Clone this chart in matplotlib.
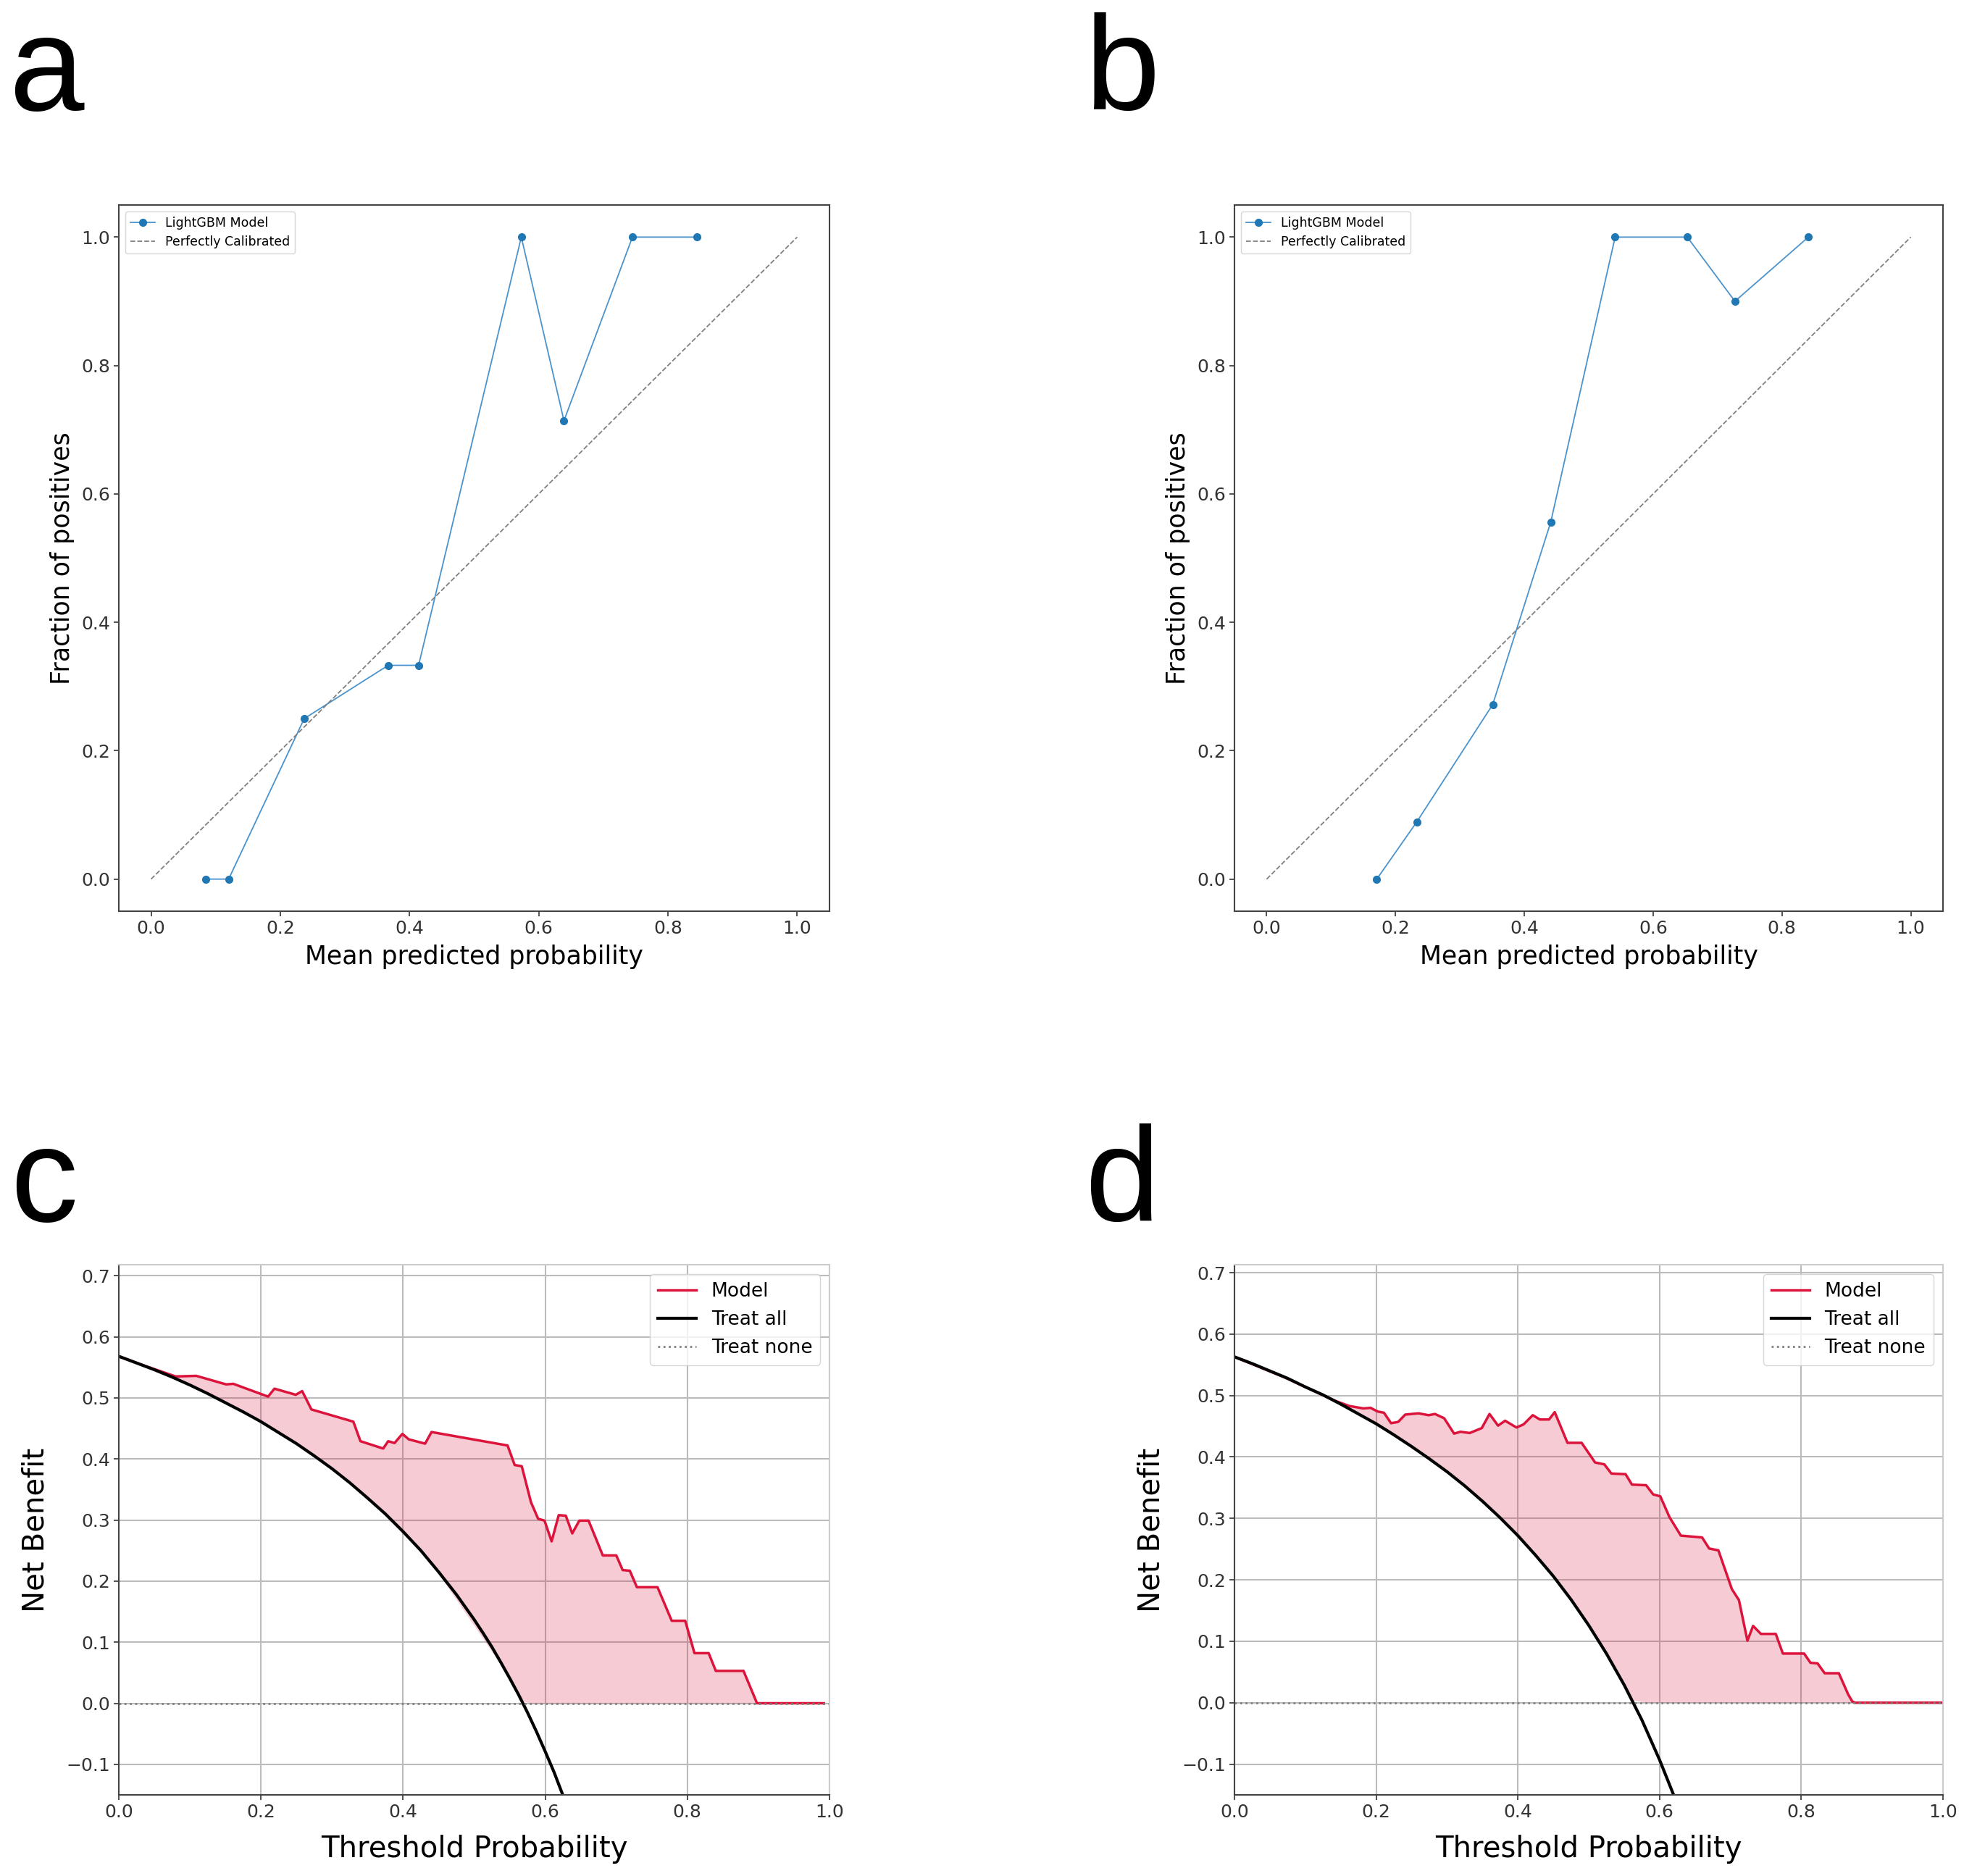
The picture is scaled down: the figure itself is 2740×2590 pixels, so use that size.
#!/usr/bin/env python3
import numpy as np
import matplotlib
import matplotlib.pyplot as plt

matplotlib.use("Agg")

# calibration curves (mean predicted prob, fraction of positives)
cal_a_x = [0.084, 0.120, 0.237, 0.367, 0.414, 0.573, 0.639, 0.745, 0.845]
cal_a_y = [0.0, 0.0, 0.25, 0.333, 0.333, 1.0, 0.714, 1.0, 1.0]
cal_b_x = [0.171, 0.233, 0.351, 0.441, 0.541, 0.653, 0.727, 0.841]
cal_b_y = [0.0, 0.089, 0.272, 0.556, 1.0, 1.0, 0.9, 1.0]

# decision curves, panel c
dca_c_t = [0.0, 0.04, 0.080, 0.109, 0.151, 0.161, 0.210, 0.219, 0.249, 0.258, 0.271,
	0.330, 0.340, 0.372, 0.379, 0.388, 0.399, 0.408, 0.431, 0.440, 0.547, 0.557,
	0.567, 0.580, 0.590, 0.599, 0.609, 0.619, 0.629, 0.638, 0.648, 0.661, 0.681,
	0.700, 0.709, 0.719, 0.729, 0.758, 0.778, 0.797, 0.810, 0.830, 0.840, 0.879,
	0.898, 0.992]
dca_c_model = [0.568, 0.551, 0.535, 0.536, 0.522, 0.523, 0.502, 0.515, 0.505, 0.511, 0.481,
	0.461, 0.429, 0.417, 0.429, 0.426, 0.441, 0.432, 0.425, 0.444, 0.422, 0.390,
	0.388, 0.329, 0.302, 0.299, 0.265, 0.308, 0.307, 0.278, 0.299, 0.299, 0.242,
	0.242, 0.218, 0.217, 0.190, 0.190, 0.135, 0.135, 0.082, 0.082, 0.053, 0.053,
	0.0, 0.0]
dca_c_all_t = [0.0, 0.025, 0.05, 0.075, 0.1, 0.125, 0.15, 0.175, 0.2, 0.225, 0.25, 0.275,
	0.3, 0.325, 0.35, 0.375, 0.4, 0.425, 0.45, 0.475, 0.5, 0.5125, 0.525, 0.5375,
	0.55, 0.5625, 0.575, 0.5875, 0.6, 0.6125, 0.625]
dca_c_all = [0.568, 0.557, 0.546, 0.534, 0.521, 0.507, 0.492, 0.477, 0.461, 0.443, 0.425,
	0.405, 0.384, 0.361, 0.336, 0.310, 0.281, 0.250, 0.215, 0.178, 0.137, 0.115,
	0.092, 0.067, 0.041, 0.014, -0.015, -0.046, -0.079, -0.113, -0.151]

# decision curves, panel d
dca_d_t = [0.0, 0.07, 0.143, 0.162, 0.182, 0.192, 0.202, 0.211, 0.221, 0.231, 0.241,
	0.260, 0.274, 0.283, 0.296, 0.310, 0.319, 0.332, 0.349, 0.360, 0.372, 0.382,
	0.398, 0.408, 0.421, 0.431, 0.444, 0.452, 0.470, 0.490, 0.509, 0.522, 0.532,
	0.552, 0.561, 0.581, 0.591, 0.601, 0.614, 0.630, 0.660, 0.670, 0.683, 0.702,
	0.712, 0.724, 0.732, 0.743, 0.764, 0.774, 0.804, 0.813, 0.823, 0.833, 0.853,
	0.866, 0.872, 0.876, 0.999]
dca_d_model = [0.563, 0.530, 0.491, 0.483, 0.479, 0.480, 0.474, 0.472, 0.455, 0.457, 0.469,
	0.471, 0.468, 0.470, 0.463, 0.438, 0.441, 0.439, 0.447, 0.470, 0.451, 0.459,
	0.448, 0.453, 0.468, 0.461, 0.461, 0.473, 0.423, 0.423, 0.391, 0.388, 0.373,
	0.372, 0.355, 0.354, 0.339, 0.336, 0.302, 0.272, 0.269, 0.251, 0.248, 0.185,
	0.167, 0.101, 0.125, 0.112, 0.112, 0.080, 0.080, 0.065, 0.064, 0.048, 0.048,
	0.014, 0.002, 0.0, 0.0]
dca_d_all_t = [0.0, 0.025, 0.05, 0.075, 0.1, 0.125, 0.15, 0.175, 0.2, 0.225, 0.25, 0.275,
	0.3, 0.325, 0.35, 0.375, 0.4, 0.425, 0.45, 0.475, 0.5, 0.525, 0.55, 0.575, 0.6, 0.625]
dca_d_all = [0.563, 0.552, 0.540, 0.528, 0.514, 0.501, 0.486, 0.470, 0.454, 0.436, 0.417,
	0.397, 0.376, 0.353, 0.328, 0.301, 0.272, 0.240, 0.206, 0.168, 0.126, 0.080,
	0.029, -0.028, -0.093, -0.165]

ticks01 = [0.0, 0.2, 0.4, 0.6, 0.8, 1.0]
nb_ticks = [-0.1, 0.0, 0.1, 0.2, 0.3, 0.4, 0.5, 0.6, 0.7]

W, H = 2740, 2590
fig = plt.figure(figsize=(W/100, H/100), dpi=100)

def box(l, t, r, b):
	return [l/W, 1-b/H, (r-l)/W, (b-t)/H]

def style(ax):
	ax.tick_params(labelsize=18, length=5, width=1.2, colors='#333333')
	for s in ax.spines.values():
		s.set_linewidth(1.5)
		s.set_color('#444444')

def calib(ax, x, y):
	ax.plot(x, y, marker='o', color='#4a93cc', lw=1.3, ms=7, mfc='#1f77b4', mec='#1f77b4',
		label='LightGBM Model')
	ax.plot([0, 1], [0, 1], '--', color='gray', lw=1.3, label='Perfectly Calibrated')
	ax.set_xticks(ticks01)
	ax.set_yticks(ticks01)
	ax.set_xlabel('Mean predicted probability', fontsize=25, labelpad=7)
	ax.set_ylabel('Fraction of positives', fontsize=25, labelpad=7)
	ax.legend(loc='upper left', fontsize=12.5)
	style(ax)

def dca(ax, t, model, all_t, all_nb):
	ax.plot(t, model, color='crimson', lw=2.5, label='Model')
	ax.plot(all_t, all_nb, color='black', lw=3, label='Treat all')
	ax.plot([0, 1], [0, 0], ':', color='gray', lw=2, label='Treat none')
	t = np.array(t)
	lower = np.maximum(np.interp(t, all_t, all_nb), 0)
	ax.fill_between(t, model, lower, where=np.array(model) >= lower,
		interpolate=True, color='crimson', alpha=0.22, lw=0)
	ax.set_xlim(0, 1)
	ax.set_ylim(-0.15, all_nb[0]+0.15)
	ax.set_xticks(ticks01)
	ax.set_yticks(nb_ticks)
	ax.grid(True, color='#bbbbbb', lw=1.5)
	ax.set_axisbelow(True)
	ax.set_xlabel('Threshold Probability', fontsize=29, labelpad=14)
	ax.set_ylabel('Net Benefit', fontsize=29, labelpad=16)
	ax.legend(loc='upper right', fontsize=19)
	style(ax)
	ax.spines['top'].set_color('#cccccc')
	ax.spines['right'].set_color('#cccccc')

ax_a = fig.add_axes(box(164, 283, 1145, 1258))
calib(ax_a, cal_a_x, cal_a_y)
ax_b = fig.add_axes(box(1704, 283, 2682, 1258))
calib(ax_b, cal_b_x, cal_b_y)
ax_c = fig.add_axes(box(164, 1746, 1145, 2478))
dca(ax_c, dca_c_t, dca_c_model, dca_c_all_t, dca_c_all)
ax_d = fig.add_axes(box(1704, 1746, 2682, 2478))
dca(ax_d, dca_d_t, dca_d_model, dca_d_all_t, dca_d_all)

# panel letters
for s, x, y in [('a', 12, 152), ('b', 1497, 152), ('c', 14, 1686), ('d', 1497, 1686)]:
	fig.text(x/W, 1-y/H, s, fontsize=134, family='Liberation Sans', va='baseline', ha='left')

fig.savefig('out.png', dpi=100, facecolor='white')
